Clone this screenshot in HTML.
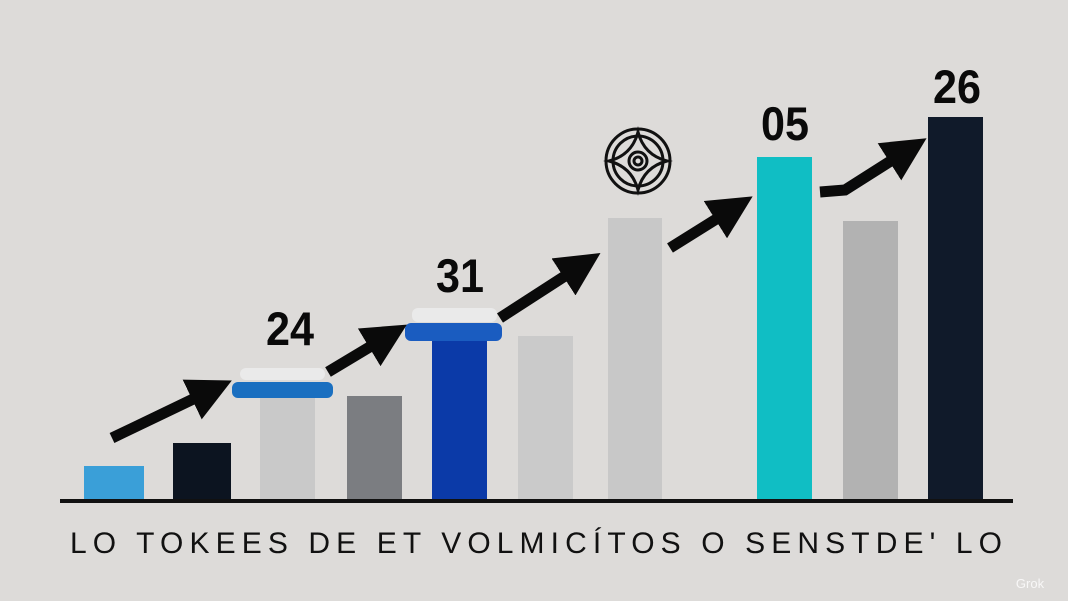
<!DOCTYPE html>
<html><head><style>
body{margin:0;width:1068px;height:601px;overflow:hidden;background:#dddbd9;}
svg{display:block}
</style></head><body>
<svg width="1068" height="601" viewBox="0 0 1068 601">
<defs>
<marker id="ah" markerWidth="4" markerHeight="4" refX="2" refY="2" orient="auto" markerUnits="strokeWidth"><path d="M0,0 L4,2 L0,4 Z" fill="#0a0a0a"/></marker>
</defs>
<rect width="1068" height="601" fill="#dddbd9"/>
<g>
<rect x="84" y="466" width="60" height="34" fill="#3a9fd8"/>
<rect x="173" y="443" width="58" height="57" fill="#0c1420"/>
<rect x="260" y="398" width="55" height="102" fill="#c9c9c9"/>
<rect x="232" y="382" width="101" height="16" rx="6" fill="#1a6fc0"/>
<rect x="240" y="368" width="85" height="12" rx="6" fill="#eeeeee" opacity="0.8"/>
<rect x="347" y="396" width="55" height="104" fill="#7b7d81"/>
<rect x="432" y="340" width="55" height="160" fill="#0b3aa8"/>
<rect x="405" y="323" width="97" height="18" rx="6" fill="#1a5cc0"/>
<rect x="412" y="308" width="85" height="14" rx="6" fill="#eeeeee" opacity="0.8"/>
<rect x="518" y="336" width="55" height="164" fill="#cacaca"/>
<rect x="608" y="218" width="54" height="282" fill="#c8c8c8"/>
<rect x="757" y="157" width="55" height="343" fill="#10bec4"/>
<rect x="843" y="221" width="55" height="279" fill="#b2b2b2"/>
<rect x="928" y="117" width="55" height="383" fill="#101a2a"/>
</g>
<rect x="60" y="499" width="953" height="4" fill="#111"/>
<g stroke="#0a0a0a" stroke-width="11" fill="none" marker-end="url(#ah)">
<line x1="112" y1="438" x2="212" y2="390"/>
<line x1="328" y1="372" x2="388" y2="336"/>
<line x1="500" y1="318" x2="582" y2="265"/>
<line x1="670" y1="248" x2="734" y2="208"/>
<polyline points="820,192 845,190 908,150"/>
</g>
<g stroke="#111" stroke-width="3" fill="none">
<circle cx="638" cy="161" r="32"/>
<circle cx="638" cy="161" r="25"/>
<circle cx="638" cy="161" r="9"/>
<circle cx="638" cy="161" r="4"/>
<path d="M638,132 Q644,155 667,161 Q644,167 638,190 Q632,167 609,161 Q632,155 638,132Z"/>
</g>
<g font-family="Liberation Sans, sans-serif" font-weight="bold" fill="#0a0a0a" font-size="47" text-anchor="middle">
<text x="290" y="345" textLength="48" lengthAdjust="spacingAndGlyphs">24</text>
<text x="460" y="292" textLength="48" lengthAdjust="spacingAndGlyphs">31</text>
<text x="785" y="140" textLength="48" lengthAdjust="spacingAndGlyphs">05</text>
<text x="957" y="103" textLength="48" lengthAdjust="spacingAndGlyphs">26</text>
</g>
<text x="70" y="553" font-family="Liberation Sans, sans-serif" font-size="30" fill="#111" textLength="932" lengthAdjust="spacing">LO TOKEES DE ET VOLMICÍTOS O SENSTDE' LO</text>
<text x="1030" y="588" font-family="Liberation Sans, sans-serif" font-size="13" fill="#fff" opacity="0.8" text-anchor="middle">Grok</text>
</svg>
</body></html>
